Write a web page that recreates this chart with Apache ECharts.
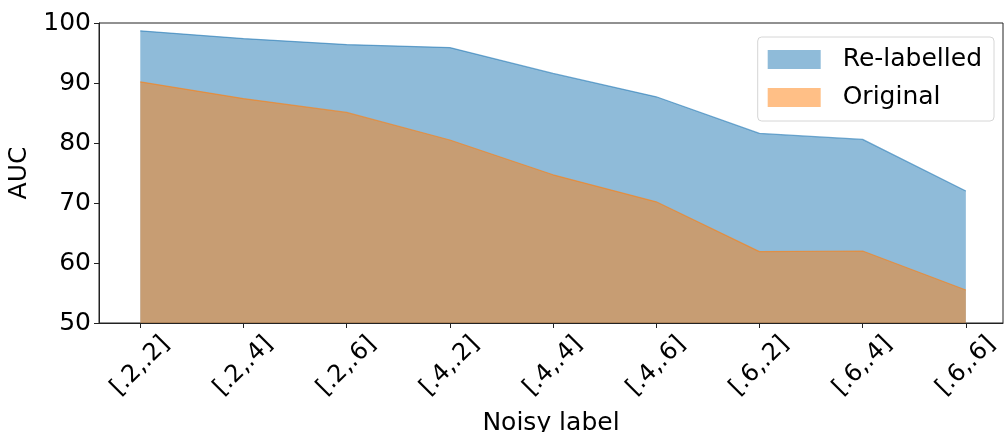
<!DOCTYPE html>
<html>
<head>
<meta charset="utf-8">
<script src="https://cdn.jsdelivr.net/npm/echarts@6/dist/echarts.min.js"></script>
<style>
    html, body { margin: 0; padding: 0; background: #fff; }
    #chart { width: 1008px; height: 432px; }
</style>
</head>
<body>
<div id="chart"></div>
<script>
// noisy label settings on the x axis
var categories = ['[.2,.2]', '[.2,.4]', '[.2,.6]', '[.4,.2]', '[.4,.4]', '[.4,.6]', '[.6,.2]', '[.6,.4]', '[.6,.6]'];
var relabelled = [98.7, 97.4, 96.4, 95.9, 91.6, 87.7, 81.6, 80.6, 72.0];
var original = [90.2, 87.4, 85.1, 80.5, 74.7, 70.2, 61.9, 62.0, 55.5];
var yTicks = [50, 60, 70, 80, 90, 100];

var font = 'DejaVu Sans';
var idx = categories.map(function (c, i) { return i; });

function pairs(vals) {
    return vals.map(function (v, i) { return [i, v]; });
}

var myChart = echarts.init(document.getElementById('chart'), null, {renderer: 'canvas'});

var option = {
    animation: false,
    backgroundColor: '#fff',
    grid: {
        left: 99, right: 5, top: 23, bottom: 109,
        outerBoundsMode: 'none',
        containLabel: false,
        show: true,
        borderColor: '#222',
        borderWidth: 1,
        backgroundColor: 'transparent'
    },
    legend: {
        orient: 'vertical',
        right: 14,
        top: 37,
        icon: 'rect',
        itemWidth: 53,
        itemHeight: 19,
        itemGap: 13,
        padding: [10, 12, 11, 10],
        borderColor: '#d6d6d6',
        borderWidth: 1,
        borderRadius: 4,
        backgroundColor: 'rgba(255,255,255,0.8)',
        textStyle: {fontFamily: font, fontSize: 25, color: '#000', padding: [0, 0, 0, 17]},
        data: [
            {name: 'Re-labelled', itemStyle: {color: '#8fbbd9'}},
            {name: 'Original', itemStyle: {color: '#ffbf86'}}
        ]
    },
    xAxis: {
        type: 'value',
        min: -0.4,
        max: 8.36,
        name: 'Noisy label',
        nameLocation: 'middle',
        nameGap: 88,
        nameTextStyle: {fontFamily: font, fontSize: 25, color: '#000', verticalAlign: 'top'},
        splitLine: {show: false},
        axisLine: {show: true, onZero: false, lineStyle: {color: '#222', width: 1}},
        axisTick: {show: true, length: 5, lineStyle: {color: '#222'}, customValues: idx},
        axisLabel: {
            customValues: idx,
            rotate: 45,
            align: 'center',
            verticalAlign: 'middle',
            margin: 43,
            fontFamily: font,
            fontSize: 24,
            color: '#000',
            formatter: function (v) { return categories[Math.round(v)]; }
        }
    },
    yAxis: {
        type: 'value',
        min: yTicks[0],
        max: yTicks[yTicks.length - 1],
        interval: 10,
        name: 'AUC',
        nameLocation: 'middle',
        nameGap: 57,
        nameTextStyle: {fontFamily: font, fontSize: 25, color: '#000'},
        splitLine: {show: false},
        axisLine: {show: true, onZero: false, lineStyle: {color: '#222', width: 1}},
        axisTick: {show: true, length: 5, lineStyle: {color: '#222'}},
        axisLabel: {fontFamily: font, fontSize: 25, color: '#000', margin: 8}
    },
    series: [
        {
            name: 'Re-labelled',
            type: 'line',
            data: pairs(relabelled),
            symbol: 'none',
            lineStyle: {color: '#1f77b4', width: 1.2, opacity: 0.6},
            itemStyle: {color: '#1f77b4'},
            areaStyle: {color: '#1f77b4', opacity: 0.5, origin: 'start'}
        },
        {
            name: 'Original',
            type: 'line',
            data: pairs(original),
            symbol: 'none',
            lineStyle: {color: '#ff7f0e', width: 1.2, opacity: 0.6},
            itemStyle: {color: '#ff7f0e'},
            areaStyle: {color: '#ff7f0e', opacity: 0.5, origin: 'start'}
        }
    ]
};

myChart.setOption(option);
</script>
</body>
</html>
